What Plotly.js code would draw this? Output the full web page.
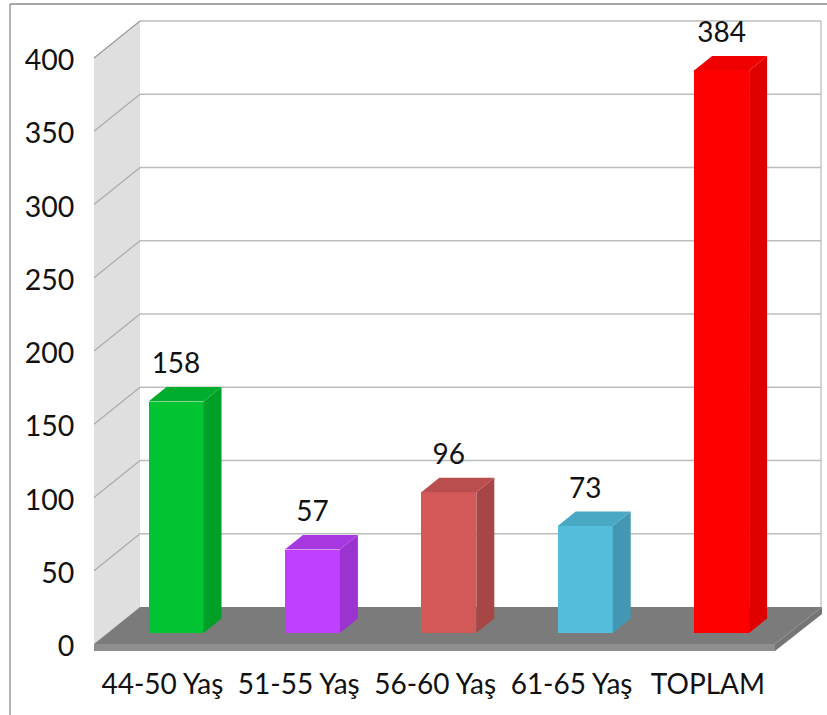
<!DOCTYPE html>
<html><head><meta charset="utf-8">
<script src="https://cdn.plot.ly/plotly-3.0.1.min.js"></script>
<style>html,body{margin:0;padding:0;background:#fff;overflow:hidden}#c{width:827px;height:715px}</style>
</head><body><div id="c"></div>
<script>
const categories = ['44-50 Yaş','51-55 Yaş','56-60 Yaş','61-65 Yaş','TOPLAM'];
const values = [158,57,96,73,384];
const frontColors = ['#00C432','#BF40FF','#D35858','#54BDDC','#FF0000'];
const sideColors  = ['#00A028','#9A33D0','#A84646','#4298B2','#E00000'];
const topColors   = ['#00AD2C','#A838E0','#BA4E4E','#49A8C4','#F00000'];
const yTicks = [0,50,100,150,200,250,300,350,400];

// scale: 136.4 px per category, 1.465 px per value unit
const PX = 136.4, PY = 1.465;
const fx = p => (p-176)/PX;           // horizontal helper relative to first bar
const wallL = fx(94), backL = fx(140), backR = fx(821), floorR = fx(775), floorBR = fx(822);
const depthY = 37/PY;                 // wall depth in value units
const lipY = -7/PY;
const base = 11/PY;                   // bars stand on the floor, in from the front edge
const halfW = 27.5/PX, barDX = 18/PX, barDY = 14.5/PY;
const barW = 2*halfW;

const traces = [];
traces.push({type:'bar',x:categories.map((c,i)=>i),y:values,base:values.map(()=>base),width:barW,
  marker:{color:frontColors,line:{width:0}},hoverinfo:'skip',showlegend:false});
values.forEach((v,i)=>{
  const l=i-halfW,r=i+halfW,t=v+base;
  traces.push({type:'scatter',mode:'lines',fill:'toself',fillcolor:sideColors[i],line:{width:0,color:sideColors[i]},
    x:[r,r+barDX,r+barDX,r,r],y:[base,base+barDY,t+barDY,t,base],hoverinfo:'skip',showlegend:false});
  traces.push({type:'scatter',mode:'lines',fill:'toself',fillcolor:topColors[i],line:{width:0,color:topColors[i]},
    x:[l,l+barDX,r+barDX,r,l],y:[t,t+barDY,t+barDY,t,t],hoverinfo:'skip',showlegend:false});
});
traces.push({type:'scatter',mode:'text',x:values.map((v,i)=>i),y:values.map(v=>v+base+35.5/PY),
  text:values.map(String),textposition:'middle center',textfont:{family:'Lato, Carlito, sans-serif',size:28,color:'#111'},
  hoverinfo:'skip',showlegend:false,cliponaxis:false});

const poly = (xs,ys,fill) => ({type:'path',xref:'x',yref:'y',layer:'below',fillcolor:fill,line:{width:0},
  path:xs.map((x,i)=>(i?'L':'M')+x+' '+ys[i]).join(' ')+' Z'});
const shapes = [];
shapes.push(poly([wallL,backL,backL,wallL],[400,400+depthY,depthY,0],'#DFDFDF'));
yTicks.filter(t=>t>0).forEach(t=>{
  shapes.push({type:'line',xref:'x',yref:'y',layer:'below',x0:wallL,y0:t,x1:backL,y1:t+depthY,line:{color:t==400?'#9a9a9a':'#ababab',width:1.2}});
  shapes.push({type:'line',xref:'x',yref:'y',layer:'below',x0:backL,y0:t+depthY,x1:backR,y1:t+depthY,line:{color:'#BDBDBD',width:1.3}});
});
shapes.push({type:'line',xref:'x',yref:'y',layer:'below',x0:backR,y0:depthY,x1:backR,y1:400+depthY,line:{color:'#BDBDBD',width:1.3}});
shapes.push(poly([wallL,backL,floorBR,floorR],[0,depthY,depthY,0],'#7B7B7B'));
shapes.push(poly([wallL,floorR,floorR,wallL],[0,0,lipY,lipY],'#8E8E8E'));
shapes.push(poly([floorR,floorBR,floorBR,floorR],[0,depthY,depthY+lipY,lipY],'#757575'));
// outer chart border
shapes.push({type:'line',xref:'paper',yref:'paper',x0:(10-90)/737,x1:(10-90)/737,y0:-0.2,y1:(652-4)/652,line:{color:'#8A8A8A',width:1.3}});
shapes.push({type:'line',xref:'paper',yref:'paper',x0:(10-90)/737,x1:1,y0:(652-4)/652,y1:(652-4)/652,line:{color:'#8A8A8A',width:1.3}});

const layout = {
  width:827,height:715,margin:{l:90,r:0,t:0,b:63},paper_bgcolor:'#fff',plot_bgcolor:'rgba(0,0,0,0)',
  showlegend:false,bargap:0,shapes:shapes,
  font:{family:'Lato, Carlito, sans-serif',size:28,color:'#111'},
  xaxis:{range:[fx(90),fx(827)],tickmode:'array',tickvals:categories.map((c,i)=>i-0.1),ticktext:categories,
    showgrid:false,zeroline:false,showline:false,ticks:'outside',ticklen:7,tickcolor:'rgba(0,0,0,0)',
    tickfont:{family:'Lato, Carlito, sans-serif',size:28,color:'#111'},tickangle:0},
  yaxis:{range:[-8/PY,644/PY],tickmode:'array',tickvals:yTicks.map(t=>t-1.4),ticktext:yTicks.map(String),
    showgrid:false,zeroline:false,showline:false,ticks:'outside',ticklen:9,tickcolor:'rgba(0,0,0,0)',
    tickfont:{family:'Lato, Carlito, sans-serif',size:28.5,color:'#111'}}
};
Plotly.newPlot('c',traces,layout,{displayModeBar:false,staticPlot:true});
</script></body></html>
